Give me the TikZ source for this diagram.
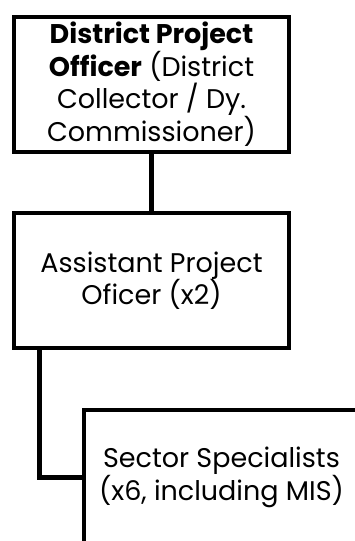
\documentclass[tikz,border=0pt]{standalone}
\usepackage{fontspec}
\setmainfont{Poppins}

\begin{document}
\begin{tikzpicture}
        [x=1pt,y=-1pt,
         post/.style={draw=black,line width=4pt,minimum width=275pt,minimum height=135pt,inner sep=0pt,align=center,font=\fontsize{27}{32.5}\selectfont},
         link/.style={draw=black,line width=5pt}]
        \clip (0,0) rectangle (355,541);
        \path node (dpo) at (151.5,84) [post] {\textbf{District Project}\\\textbf{Officer} (District\\Collector / Dy.\\Commissioner)}
              node (apo) at (151.5,280.5) [post] {Assistant Project\\Oficer (x2)}
              node (ss) at (221.5,477.5) [post] {Sector Specialists\\(x6, including MIS)};
        \coordinate (fork) at ([xshift=27pt]apo.south west);
        \draw[link] (dpo.south) -- (apo.north);
        \draw[link] (fork) |- (ss.west);
      \end{tikzpicture}
\end{document}
